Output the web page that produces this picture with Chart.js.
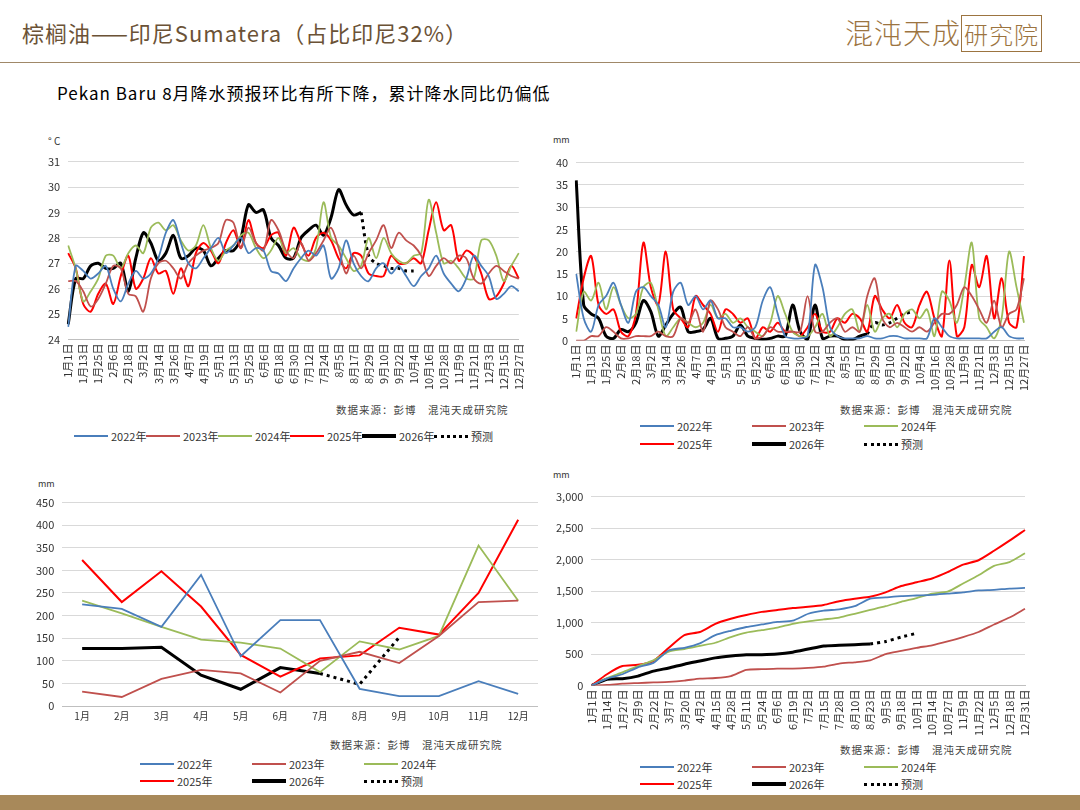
<!DOCTYPE html>
<html><head><meta charset="utf-8">
<script src="https://cdn.jsdelivr.net/npm/chart.js@4"></script>
<style>
body{margin:0;width:1080px;height:810px;position:relative;background:#fff;font-family:"Noto Sans CJK SC","Noto Sans",sans-serif;overflow:hidden}
.abs{position:absolute}
canvas{position:absolute}
.leg{position:absolute;font-size:11px;color:#333;display:flex;align-items:center}
.leg i{display:inline-block;width:34px;height:0;margin-right:3px}
.src{position:absolute;font-size:10.5px;color:#444;letter-spacing:1px}
.unit{position:absolute;font-size:10px;color:#333}
</style></head><body>
<div class="abs" style="left:22px;top:16px;font-size:22px;color:#6b5236;letter-spacing:1px">棕榈油——印尼Sumatera（占比印尼32%）</div>
<div class="abs" style="left:845px;top:12px;font-size:28px;color:#9c7440;font-family:'Noto Sans CJK SC';font-weight:300;letter-spacing:1px">混沌天成<span style="border:1.5px solid #9c7440;padding:0 2px;font-size:24px">研究院</span></div>
<div class="abs" style="left:0;top:62px;width:1080px;height:1px;background:#a08868"></div>
<div class="abs" style="left:57px;top:80px;font-size:17px;color:#000;letter-spacing:1px">Pekan Baru 8月降水预报环比有所下降，累计降水同比仍偏低</div>
<div class="abs" style="left:0;top:795px;width:1080px;height:15px;background:#a8895a"></div>

<div class="unit" style="left:48px;top:133px">° C</div>
<div class="unit" style="left:553px;top:133px;font-size:9px">mm</div>
<div class="unit" style="left:38px;top:477px;font-size:9px">mm</div>
<div class="unit" style="left:553px;top:468px;font-size:9px">mm</div>

<canvas id="c1" style="left:40px;top:147px" width="496" height="247"></canvas>
<canvas id="c2" style="left:548px;top:148px" width="500" height="247"></canvas>
<canvas id="c3" style="left:28px;top:488px" width="510" height="238"></canvas>
<canvas id="c4" style="left:548px;top:482px" width="495" height="258"></canvas>

<div class="src" style="left:336px;top:402px">数据来源：彭博　混沌天成研究院</div>
<div class="src" style="left:840px;top:402px">数据来源：彭博　混沌天成研究院</div>
<div class="src" style="left:330px;top:737px">数据来源：彭博　混沌天成研究院</div>
<div class="src" style="left:840px;top:742px">数据来源：彭博　混沌天成研究院</div>

<div id="l1"></div><div id="l2"></div><div id="l3"></div><div id="l4"></div>
<script>
// ---------- data ----------
const seriesNames=['2022年','2023年','2024年','2025年','2026年','预测'];
// temperature, every 6 days from 1/1
const t2022=[24.5,26.9,26.7,26.4,26.6,26.9,26.0,25.5,26.2,26.7,26.4,26.6,27.2,28.2,28.7,27.8,27.0,26.8,27.2,27.6,28.0,27.4,27.7,28.0,27.4,27.6,27.5,26.7,26.6,26.3,26.8,27.2,27.5,27.3,27.7,26.4,26.8,27.9,27.0,26.5,26.3,26.8,27.0,26.6,26.9,26.5,26.1,26.5,26.8,27.3,26.6,26.2,25.9,26.4,27.3,26.9,26.5,25.6,25.8,26.1,25.9];
const t2023=[26.3,26.3,25.9,25.3,25.6,26.2,26.9,26.8,25.8,25.7,25.1,26.4,27.0,27.1,26.8,26.4,27.0,27.3,27.5,27.6,27.8,28.7,28.6,27.6,28.4,27.8,27.5,28.7,28.3,27.5,27.2,27.8,27.1,27.4,27.9,28.4,27.6,26.6,27.3,26.8,27.4,27.9,28.5,27.6,28.2,27.9,27.7,27.3,26.5,26.9,27.2,27.0,27.3,27.2,26.4,26.2,26.6,26.9,26.7,26.5,26.4];
const t2024=[27.7,26.8,25.5,25.9,26.4,27.3,27.3,26.8,27.4,27.7,27.4,28.4,28.6,28.3,28.5,27.9,27.5,27.7,28.5,27.6,27.1,27.5,27.7,28.1,28.2,27.6,27.2,27.5,28.0,27.4,27.6,27.2,27.1,27.6,29.4,28.0,27.7,27.2,26.7,26.9,28.0,27.2,28.0,27.4,27.1,27.0,27.3,27.4,29.5,28.2,27.0,27.1,26.8,26.4,26.4,27.9,27.9,27.3,26.3,26.9,27.4];
const t2025=[27.4,26.8,25.4,25.1,25.8,26.2,25.4,26.5,27.3,26.0,26.4,27.2,26.6,26.7,25.8,26.8,26.1,27.4,27.8,27.5,27.0,27.8,28.3,27.6,28.7,27.8,27.6,28.1,28.2,27.3,28.4,27.8,27.3,28.0,28.2,27.9,27.2,26.8,27.4,27.3,26.6,26.5,26.5,27.3,27.0,27.0,27.2,27.0,28.3,29.4,28.3,28.5,27.1,27.5,27.3,26.6,25.6,25.7,26.2,26.9,26.4];
const t2026=[24.6,26.4,26.4,26.9,27.0,26.8,26.8,27.0,25.9,27.2,28.2,27.8,27.1,27.4,28.1,27.2,27.3,27.6,27.5,26.9,27.2,27.5,27.5,28.0,29.3,29.0,29.1,28.0,27.7,27.2,27.2,28.0,28.3,28.5,28.1,28.8,29.9,29.3,28.9,29.0];
const tFc=[...Array(39).fill(null),29.0,27.3,27.0,26.9,26.8,26.8,26.7,26.7];
// daily rainfall, every 6 days
const r2022=[15,5,2,8,10,13,8,4,11,12,10,8,3,11,13,8,10,7,9,5,5,3,3,2,3,9,12,6,1,0.5,0.5,1,17,12,3,1,0.5,0.5,0.5,1,0.5,0.5,1,1,0.5,0.5,0.5,0.5,5,3,1,0.5,0.5,0.5,0.5,0.5,2,3,1,0.5,0.5];
const r2023=[0,0,1,1,3,2,0.5,0.5,1,1,1,2,1,1,5,4,7,2,9,7,3,2,1,3,0.5,1,3,2,2,2,2,10,2,2,4,5,2,3,2,10,14,5,3,4,3,2,3,2,4,6,6,8,12,10,7,4,9,3,6,7,14];
const r2024=[2,11,9,13,7,12,8,5,6,12,13,7,1,3,5,4,3,4,8,5,6,4,5,3,2,1,4,10,6,2,1,1,3,6,1,3,6,7,2,8,2,5,6,3,6,7,5,7,1,11,9,4,12,22,5,3,0.5,5,20,12,4];
const r2025=[5,14,19,8,6,7,2,1,6,22,12,8,20,7,5,3,10,8,6,2,7,6,4,5,0.5,3,2,4,2,2,1,3,6,2,2,5,4,6,5,2,10,7,5,8,4,3,8,11,5,1,18,1,3,17,12,19,5,14,4,3,19];
const r2026=[36,8,6,5,1,0.5,2.5,2,4,9,6.5,1,3.5,6,7.5,2,2,2.5,5,0.5,0.5,1,3.5,1,0.5,0.3,0.5,1,1,8,2,0.3,8,0.5,1,1,0.2,0.2,1,1.5];
const rFc=[...Array(39).fill(null),1.5,4,3.5,4,5,6,6.5];
// monthly rainfall
const months=['1月','2月','3月','4月','5月','6月','7月','8月','9月','10月','11月','12月'];
const m2022=[225,215,175,290,110,190,190,38,22,22,55,27];
const m2023=[32,20,60,80,72,30,100,120,95,155,230,233];
const m2024=[233,205,175,147,140,127,75,143,125,155,355,233];
const m2025=[323,230,298,220,113,65,105,112,173,158,250,412];
const m2026=[127,127,130,68,37,85,72];
const mFc=[null,null,null,null,null,null,72,48,152];
// cumulative rainfall, every 13 days
const c2022=[0,110,180,290,360,560,600,670,800,870,930,970,1010,1030,1140,1190,1210,1260,1380,1400,1420,1430,1440,1460,1480,1510,1520,1540,1550];
const c2023=[0,10,30,40,50,60,80,110,120,150,250,260,270,270,280,300,350,370,400,500,550,600,640,700,770,850,970,1080,1220];
const c2024=[0,120,210,310,400,540,580,630,680,770,840,880,920,980,1020,1050,1080,1140,1200,1260,1330,1390,1460,1490,1620,1750,1900,1960,2100];
const c2025=[0,180,310,330,390,600,800,850,980,1060,1120,1170,1200,1230,1250,1280,1340,1380,1410,1480,1580,1640,1700,1800,1920,1990,2140,2300,2470];
const c2026=[0,100,110,150,230,280,340,390,440,470,490,490,500,530,580,630,640,650,660];
const cFc=[...Array(18).fill(null),660,700,770,830];

function dayLabels(step,n){const out=[];for(let i=0;i<n;i++){const d=new Date(2026,0,1+i*step);out.push((d.getMonth()+1)+'月'+d.getDate()+'日');}return out;}
const lab6=dayLabels(6,61);
const lab13=dayLabels(13,28).concat(['12月31日']);

// ---------- styling ----------
const COL=['#4a7ebb','#c0504d','#9bbb59','#ff0000','#000000','#000000'];
const FONT="'Noto Sans CJK SC', sans-serif";
Chart.defaults.font.family=FONT;
Chart.defaults.color='#333';
function ds(arrs,tension){return arrs.map((a,i)=>({label:seriesNames[i],data:a,borderColor:COL[i],backgroundColor:COL[i],
 borderWidth:i>=4?3:(i==3?2:1.8),pointRadius:0,tension:tension,borderDash:i==5?[3,4]:[],spanGaps:false}));}
function mk(id,labels,arrs,ymin,ymax,step,opt){
 return new Chart(document.getElementById(id),{type:'line',data:{labels,datasets:ds(arrs,opt.tension)},
 options:{responsive:false,animation:false,plugins:{legend:{display:false},tooltip:{enabled:false}},
 layout:{padding:opt.pad||0},
 scales:{x:{offset:!!opt.offset,grid:{display:false,drawTicks:false},border:{color:'#bfbfbf'},
   ticks:{autoSkip:false,maxRotation:opt.rot,minRotation:opt.rot,font:{size:opt.xf||11},padding:4,
   callback:function(v,i){return (opt.every&&i%opt.every)?'':this.getLabelForValue(v);}}},
  y:{min:ymin,max:ymax,grid:{color:'#d9d9d9',drawTicks:false},border:{display:false},
   ticks:{stepSize:step,font:{size:11},padding:8,callback:opt.fmt||(v=>v)}}}}});
}
mk('c1',lab6,[t2022,t2023,t2024,t2025,t2026,tFc],24,31,1,{rot:90,every:2,tension:0.3,pad:{right:0}});
mk('c2',lab6,[r2022,r2023,r2024,r2025,r2026,rFc],0,40,5,{rot:90,every:2,tension:0.3,pad:{right:24}});
mk('c3',months,[m2022,m2023,m2024,m2025,m2026,mFc],0,450,50,{rot:0,offset:true,tension:0,xf:10});
mk('c4',lab13,[c2022,c2023,c2024,c2025,c2026,cFc],0,3000,500,{rot:90,tension:0.2,fmt:v=>v.toLocaleString('en-US'),pad:{right:18}});

function legend(id,x,y,cols,gap,rowh){
 const el=document.getElementById(id);
 seriesNames.forEach((n,i)=>{const d=document.createElement('div');d.className='leg';
  const r=Math.floor(i/cols),c=i%cols;d.style.left=(x+c*gap)+'px';d.style.top=(y+r*rowh)+'px';
  const ln=i==5?`border-top:3px dotted #000`:`border-top:${i==4?4:2.5}px solid ${COL[i]}`;
  d.innerHTML=`<i style="${ln}"></i>${n}`;el.appendChild(d);});
}
legend('l1',74,428,6,72,0);
legend('l2',640,418,3,112,18);
legend('l3',140,756,3,112,17);
legend('l4',640,759,3,112,17);
</script></body></html>
